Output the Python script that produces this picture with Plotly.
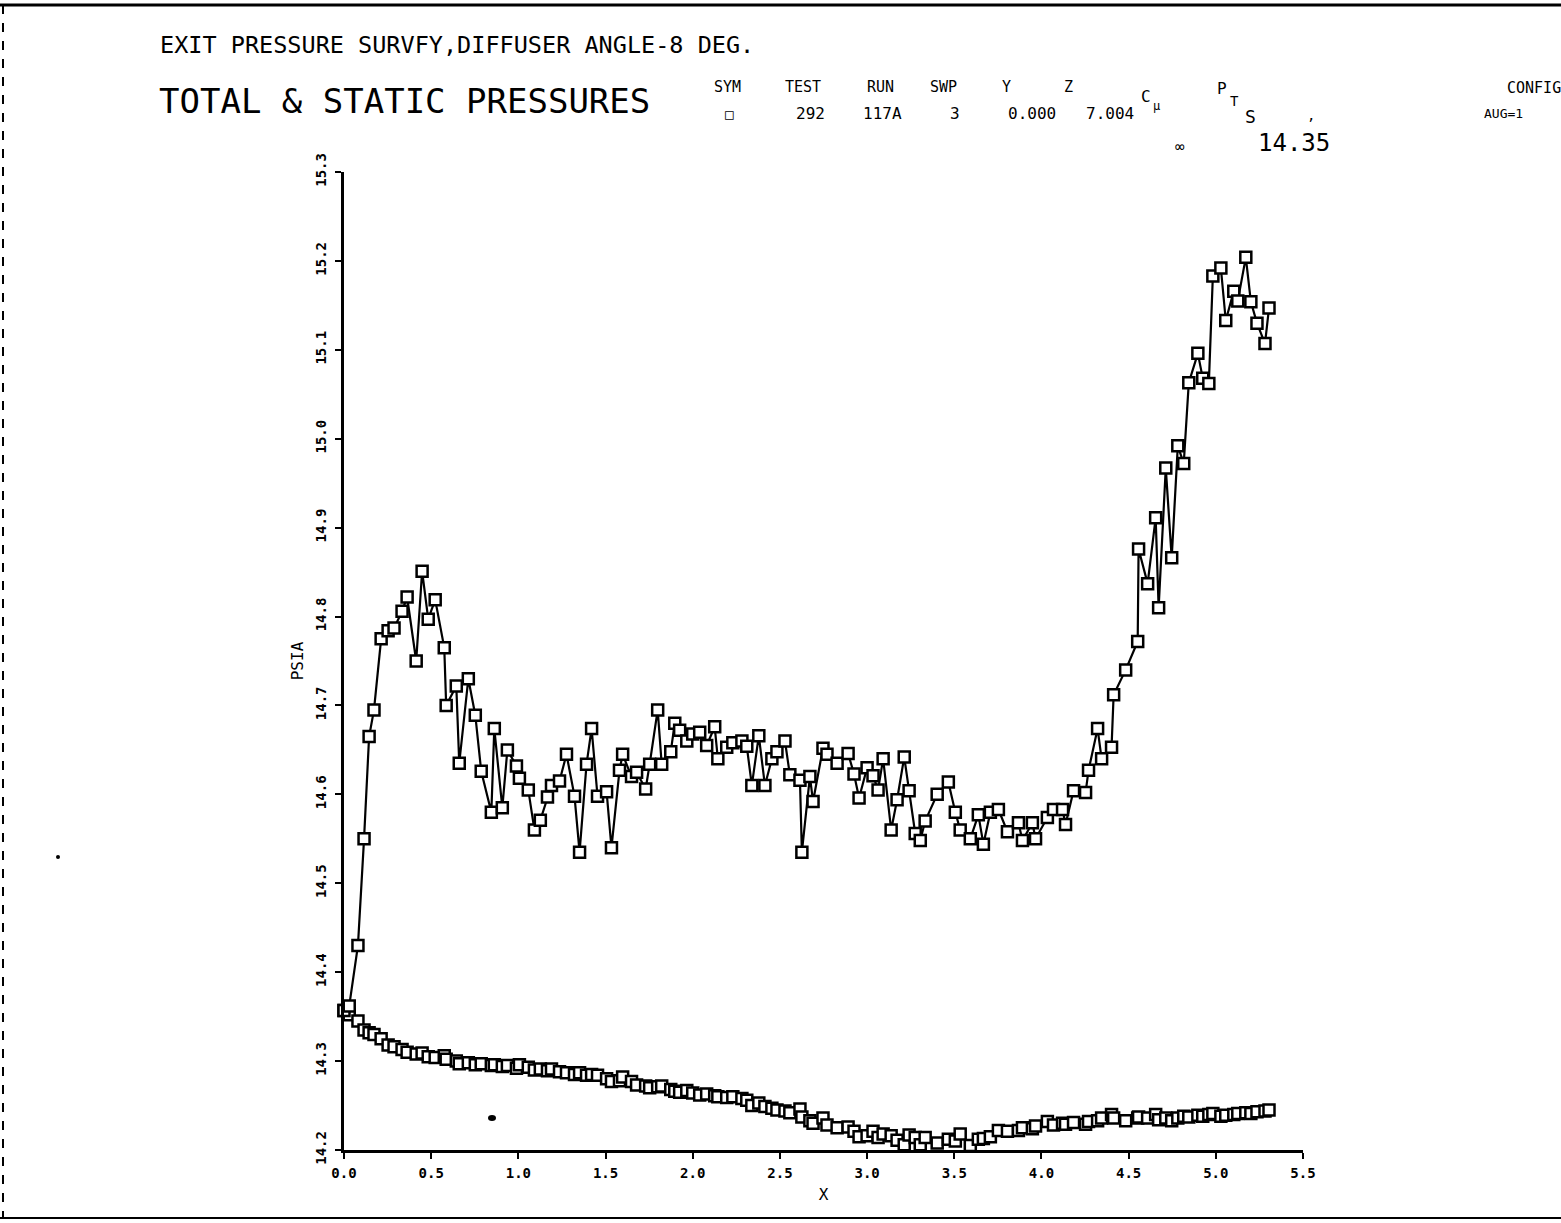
import plotly.graph_objects as go

# ---------------- data ----------------
X = [0.00, 0.03, 0.08, 0.115, 0.144, 0.172, 0.213, 0.253, 0.287, 0.333,
     0.362, 0.414, 0.448, 0.483, 0.523, 0.575, 0.586, 0.644, 0.661, 0.713,
     0.753, 0.787, 0.845, 0.862, 0.908, 0.937, 0.989, 1.006, 1.057, 1.092,
     1.126, 1.167, 1.190, 1.236, 1.276, 1.322, 1.351, 1.391, 1.420, 1.454,
     1.506, 1.534, 1.580, 1.598, 1.649, 1.678, 1.730, 1.753, 1.799, 1.822,
     1.874, 1.897, 1.925, 1.966, 2.000, 2.040, 2.080, 2.126, 2.144, 2.195,
     2.230, 2.282, 2.310, 2.339, 2.379, 2.414, 2.454, 2.483, 2.529, 2.557,
     2.615, 2.626, 2.672, 2.690, 2.747, 2.770, 2.828, 2.891, 2.925, 2.954,
     3.000, 3.034, 3.063, 3.092, 3.138, 3.172, 3.213, 3.241, 3.276, 3.305,
     3.333, 3.402, 3.466, 3.506, 3.534, 3.592, 3.638, 3.667, 3.707, 3.753,
     3.805, 3.868, 3.891, 3.948, 3.966, 4.034, 4.069, 4.121, 4.138, 4.184,
     4.253, 4.270, 4.322, 4.345, 4.402, 4.414, 4.483, 4.552, 4.557, 4.609,
     4.655, 4.672, 4.713, 4.747, 4.782, 4.816, 4.845, 4.897, 4.925, 4.960,
     4.983, 5.029, 5.057, 5.103, 5.126, 5.172, 5.201, 5.236, 5.282, 5.305]

P_TOTAL = [14.357, 14.362, 14.430, 14.550, 14.665, 14.695, 14.775, 14.784, 14.787, 14.806,
           14.822, 14.750, 14.851, 14.797, 14.819, 14.765, 14.700, 14.722, 14.635, 14.730,
           14.689, 14.626, 14.580, 14.674, 14.585, 14.650, 14.632, 14.618, 14.605, 14.560,
           14.571, 14.597, 14.610, 14.615, 14.645, 14.598, 14.535, 14.634, 14.674, 14.598,
           14.603, 14.540, 14.627, 14.645, 14.620, 14.625, 14.606, 14.634, 14.695, 14.634,
           14.648, 14.680, 14.672, 14.660, 14.668, 14.670, 14.655, 14.676, 14.640, 14.653,
           14.658, 14.660, 14.654, 14.610, 14.666, 14.610, 14.640, 14.648, 14.660, 14.622,
           14.616, 14.535, 14.620, 14.592, 14.652, 14.645, 14.635, 14.646, 14.623, 14.596,
           14.630, 14.621, 14.605, 14.640, 14.560, 14.594, 14.642, 14.604, 14.556, 14.548,
           14.570, 14.600, 14.614, 14.580, 14.560, 14.550, 14.577, 14.544, 14.580, 14.583,
           14.558, 14.568, 14.548, 14.568, 14.550, 14.574, 14.583, 14.583, 14.566, 14.604,
           14.602, 14.627, 14.674, 14.640, 14.653, 14.712, 14.740, 14.772, 14.876, 14.837,
           14.911, 14.810, 14.967, 14.866, 14.992, 14.972, 15.063, 15.096, 15.068, 15.062,
           15.183, 15.192, 15.133, 15.166, 15.155, 15.204, 15.154, 15.130, 15.107, 15.147]

P_STATIC = [14.357, 14.352, 14.345, 14.335, 14.332, 14.330, 14.325, 14.318, 14.316, 14.313,
            14.310, 14.308, 14.309, 14.305, 14.304, 14.306, 14.302, 14.300, 14.297, 14.298,
            14.296, 14.297, 14.295, 14.296, 14.294, 14.295, 14.292, 14.296, 14.293, 14.290,
            14.291, 14.289, 14.291, 14.288, 14.287, 14.285, 14.287, 14.284, 14.285, 14.284,
            14.280, 14.277, 14.278, 14.282, 14.277, 14.273, 14.272, 14.270, 14.271, 14.272,
            14.268, 14.266, 14.265, 14.267, 14.264, 14.262, 14.263, 14.261, 14.260, 14.259,
            14.260, 14.258, 14.256, 14.250, 14.253, 14.249, 14.247, 14.245, 14.244, 14.242,
            14.246, 14.237, 14.233, 14.230, 14.236, 14.228, 14.225, 14.226, 14.221, 14.215,
            14.216, 14.221, 14.214, 14.218, 14.216, 14.211, 14.206, 14.217, 14.214, 14.206,
            14.214, 14.208, 14.212, 14.210, 14.218, 14.205, 14.212, 14.213, 14.215, 14.222,
            14.221, 14.222, 14.225, 14.224, 14.227, 14.232, 14.228, 14.230, 14.229, 14.231,
            14.229, 14.232, 14.233, 14.236, 14.240, 14.236, 14.233, 14.236, 14.237, 14.236,
            14.240, 14.234, 14.236, 14.233, 14.236, 14.238, 14.237, 14.239, 14.238, 14.240,
            14.241, 14.238, 14.239, 14.240, 14.241, 14.242, 14.241, 14.243, 14.244, 14.245]

X_TICKS = [0.0, 0.5, 1.0, 1.5, 2.0, 2.5, 3.0, 3.5, 4.0, 4.5, 5.0, 5.5]
Y_TICKS = [14.2, 14.3, 14.4, 14.5, 14.6, 14.7, 14.8, 14.9, 15.0, 15.1, 15.2, 15.3]

# ---------------- layout geometry ----------------
W, H = 1561, 1223
L, R, T, B = 344, 1303, 172, 1150   # plot area in pixels
FONT = "DejaVu Sans Mono, Liberation Mono, monospace"


def px(x):
    return (x - L) / (R - L)


def py(y):
    return (B - y) / (B - T)


fig = go.Figure()
marker = dict(symbol="square", size=11, color="white",
              line=dict(color="black", width=2.5))
for ys in (P_STATIC, P_TOTAL):
    fig.add_trace(go.Scatter(x=X, y=ys, mode="lines+markers",
                             line=dict(color="black", width=2.2),
                             marker=marker, cliponaxis=False,
                             showlegend=False))

axis_common = dict(showgrid=False, zeroline=False, showline=True,
                   linecolor="black", linewidth=2.5, ticks="outside",
                   ticklen=6, tickwidth=2, tickcolor="black",
                   tickfont=dict(family=FONT, size=14, color="black", weight="bold"),
                   tickformat=".1f", mirror=False)

fig.update_xaxes(range=[0, 5.5], tickvals=X_TICKS, ticklabelstandoff=2,
                 title=dict(text="X", font=dict(family=FONT, size=16, color="black"),
                            standoff=10),
                 **axis_common)
fig.update_yaxes(range=[14.2, 15.3], tickvals=Y_TICKS, tickangle=-90,
                 ticklabelstandoff=4,
                 title=dict(text="PSIA", font=dict(family=FONT, size=16, color="black"),
                            standoff=6),
                 **axis_common)

ann = []


def add_text(text, x, y, size, anchor="center"):
    ann.append(dict(text=text, x=px(x), y=py(y), xref="paper", yref="paper",
                    xanchor=anchor, yanchor="middle", showarrow=False,
                    font=dict(family=FONT, size=size, color="black")))


add_text("EXIT PRESSURE SURVFY,DIFFUSER ANGLE-8 DEG.", 158, 45, 23.5, "left")
add_text("TOTAL &amp; STATIC PRESSURES", 157, 101, 34, "left")
for t, xx in [("SYM", 727), ("TEST", 803), ("RUN", 880), ("SWP", 943),
              ("Y", 1006), ("Z", 1068)]:
    add_text(t, xx, 87, 15)
add_text("C", 1146, 96, 16)
add_text("μ", 1156, 106, 12)
add_text("P", 1222, 88, 16)
add_text("T", 1234, 101, 14)
add_text("S", 1250, 116, 18)
add_text(",", 1311, 115, 14)
add_text("CONFIG", 1563, 88, 15, "right")
add_text("□", 729, 114, 14)
add_text("292", 810, 114, 16)
add_text("117A", 882, 114, 16)
add_text("3", 955, 114, 16)
add_text("0.000", 1032, 114, 16)
add_text("7.004", 1110, 114, 16)
add_text("AUG=1", 1503, 113, 13)
add_text("∞", 1180, 146, 16)
add_text("14.35", 1294, 143, 24)

shapes = [
    dict(type="line", xref="paper", yref="paper", x0=px(0), x1=px(W),
         y0=py(5), y1=py(5), line=dict(color="black", width=3)),
    dict(type="line", xref="paper", yref="paper", x0=px(0), x1=px(W),
         y0=py(1218), y1=py(1218), line=dict(color="black", width=2)),
    dict(type="line", xref="paper", yref="paper", x0=px(3), x1=px(3),
         y0=py(5), y1=py(1218), line=dict(color="black", width=2, dash="dash")),
    dict(type="circle", xref="paper", yref="paper", x0=px(488), x1=px(496),
         y0=py(1115), y1=py(1121), fillcolor="black", line=dict(width=0)),
    dict(type="circle", xref="paper", yref="paper", x0=px(56), x1=px(60),
         y0=py(855), y1=py(859), fillcolor="black", line=dict(width=0)),
]

fig.update_layout(width=W, height=H, autosize=False,
                  margin=dict(l=L, r=W - R, t=T, b=H - B, pad=0),
                  paper_bgcolor="white", plot_bgcolor="white",
                  annotations=ann, shapes=shapes)

fig.write_html("out.html", config={"displayModeBar": False},
               post_script="document.body.style.margin='0';")
